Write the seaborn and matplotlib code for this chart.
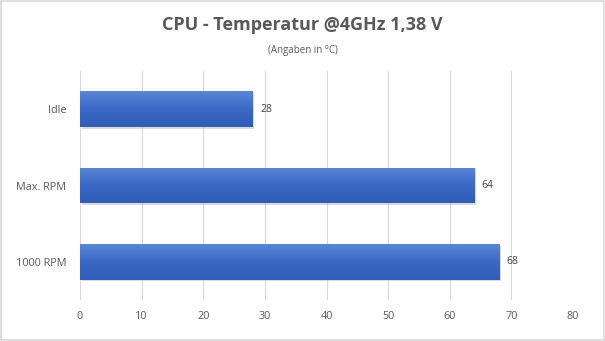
import numpy as np
import pandas as pd
import matplotlib
matplotlib.use("Agg")
import matplotlib.pyplot as plt
import matplotlib.patheffects as pe
from matplotlib.colors import LinearSegmentedColormap
import seaborn as sns

categories = ["Idle", "Max. RPM", "1000 RPM"]
values = [28, 64, 68]
x_ticks = [0, 10, 20, 30, 40, 50, 60, 70, 80]
title = "CPU - Temperatur @4GHz 1,38 V"
subtitle = "(Angaben in °C)"

sns.set_theme(style="white")
plt.rcParams['font.family'] = ['Open Sans', 'DejaVu Sans']

df = pd.DataFrame({"cat": categories, "val": values})

fig = plt.figure(figsize=(6.05, 3.41), dpi=100)
fig.patch.set_facecolor("white")
ax = fig.add_axes([80/605, 41/341, 493/605, 229/341])
ax.set_facecolor("none")

sns.barplot(data=df, x="val", y="cat", orient="h", ax=ax, color="#4472C4",
            width=0.47, saturation=1, linewidth=0, edgecolor="none")

cmap = LinearSegmentedColormap.from_list("g", ["#5B86D6", "#3A68C4", "#2F5DB8"])
for p in list(ax.patches):
    x0, y0 = p.get_x(), p.get_y()
    w, h = p.get_width(), p.get_height()
    p.set_linewidth(0)
    p.set_path_effects([pe.SimplePatchShadow(offset=(1.2, -1.2), shadow_rgbFace="#999999", alpha=0.35), pe.Normal()])
    grad = np.linspace(0, 1, 64).reshape(-1, 1)
    im = ax.imshow(grad, cmap=cmap, aspect="auto", extent=[x0, x0 + w, y0 + h, y0],
                   origin="upper", zorder=p.get_zorder() + 0.1)
    im.set_clip_path(p)

for i, v in enumerate(values):
    ax.text(v + 1.2, i, str(v), va="center", ha="left", fontsize=7.5, color="#404040")

ax.set_xlim(0, 80)
ax.set_ylim(2.5, -0.5)
ax.set_xticks(x_ticks)
ax.set_xticklabels([str(t) for t in x_ticks])
ax.xaxis.grid(True, color="#D9D9D9", linewidth=0.8)
ax.set_axisbelow(True)
ax.set_xlabel("")
ax.set_ylabel("")
for s in ax.spines.values():
    s.set_visible(False)
ax.tick_params(axis="both", length=0, labelsize=7.8, colors="#595959")
ax.tick_params(axis="x", pad=8)
ax.tick_params(axis="y", pad=10)

fig.text(0.5, 1 - 25/341, title, ha="center", va="center", fontsize=13,
         fontweight="bold", color="#595959")
fig.text(0.5, 1 - 51/341, subtitle, ha="center", va="center", fontsize=7,
         color="#595959")

border = plt.Rectangle((0.002, 0.003), 0.996, 0.994, transform=fig.transFigure,
                       fill=False, edgecolor="#D9D9D9", linewidth=1.2)
fig.add_artist(border)

fig.savefig("out.png", dpi=100)
